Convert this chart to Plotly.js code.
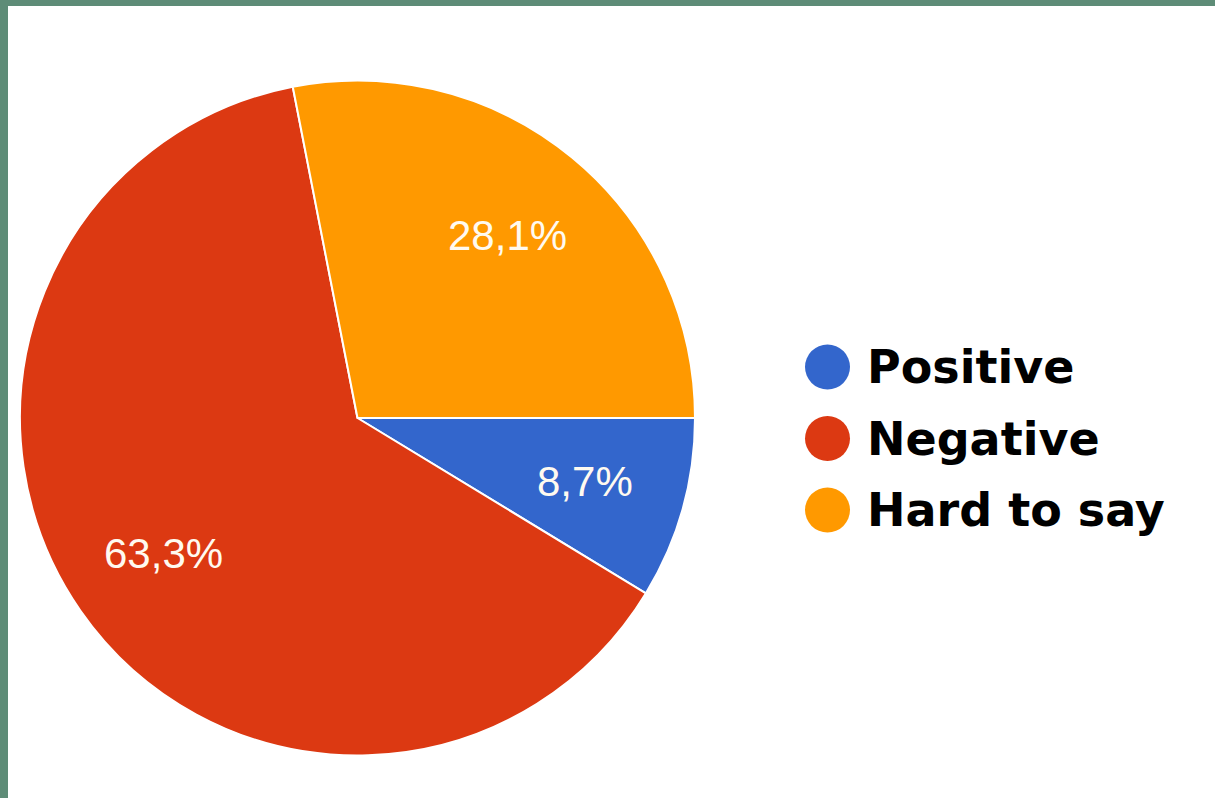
<!DOCTYPE html>
<html>
<head>
<meta charset="utf-8">
<script src="https://cdn.plot.ly/plotly-3.0.1.min.js"></script>
<style>
  html, body { margin: 0; padding: 0; width: 1215px; height: 798px; overflow: hidden; background: #5e8c77; }
  #chart { position: absolute; left: 8px; top: 6px; width: 1207px; height: 792px; background: #ffffff; }
</style>
</head>
<body>
<div id="chart"></div>
<script>
// Data
const categories = ["Positive", "Negative", "Hard to say"];
const shares = [8.7, 63.3, 28.1];
const colors = ["#3366cc", "#dc3912", "#ff9900"];

const W = 1207, H = 792;
const labelsText = shares.map(v => v.toFixed(1).replace('.', ',') + '%');

// pie placement (pixels inside the plot div)
const pieX0 = 12, pieX1 = 687, pieY0 = 74, pieY1 = 750;
const cx = (pieX0 + pieX1) / 2, cy = (pieY0 + pieY1) / 2;
const R = Math.min(pieX1 - pieX0, pieY1 - pieY0) / 2;

const trace = {
  type: 'pie',
  labels: categories,
  values: shares,
  textinfo: 'none',
  sort: false,
  direction: 'clockwise',
  rotation: 90,
  marker: { colors: colors, line: { color: '#ffffff', width: 2 } },
  domain: { x: [pieX0 / W, pieX1 / W], y: [1 - pieY1 / H, 1 - pieY0 / H] },
  showlegend: false,
  hoverinfo: 'label+percent'
};

const shapes = [], annotations = [];

// Percentage labels placed along each slice's bisector (computed from the values)
const total = shares.reduce((a, b) => a + b, 0);
let cum = 0;
shares.forEach((v, i) => {
  const mid = (cum + v / 2) / total * 2 * Math.PI; // clockwise from 3 o'clock
  cum += v;
  const px = cx + 0.7 * R * Math.cos(mid);
  const py = cy + 0.7 * R * Math.sin(mid);
  annotations.push({
    xref: 'paper', yref: 'paper',
    x: px / W, y: 1 - py / H, xanchor: 'center', yanchor: 'middle',
    text: labelsText[i], showarrow: false,
    font: { family: 'Liberation Sans, Arial, sans-serif', size: 42, color: '#fffaf0' }
  });
});

// Custom legend built from categories/colors
const legendX = 819.5 / W;
const rowY0 = 361, rowStep = 71.5;
categories.forEach((c, i) => {
  const yc = 1 - (rowY0 + i * rowStep) / H;
  shapes.push({
    type: 'circle', xref: 'paper', yref: 'paper',
    xsizemode: 'pixel', ysizemode: 'pixel',
    xanchor: legendX, yanchor: yc,
    x0: -22.5, x1: 22.5, y0: -22.5, y1: 22.5,
    fillcolor: colors[i], line: { width: 0 }
  });
  annotations.push({
    xref: 'paper', yref: 'paper',
    x: 857 / W, y: yc, xanchor: 'left', yanchor: 'middle',
    text: '<b>' + c + '</b>', showarrow: false,
    font: { family: 'DejaVu Sans, sans-serif', size: 46, color: '#000000' }
  });
});

const layout = {
  width: W, height: H,
  margin: { l: 0, r: 0, t: 0, b: 0 },
  paper_bgcolor: '#ffffff',
  plot_bgcolor: '#ffffff',
  shapes: shapes,
  annotations: annotations
};

Plotly.newPlot('chart', [trace], layout, { displayModeBar: false, staticPlot: true });
</script>
</body>
</html>
